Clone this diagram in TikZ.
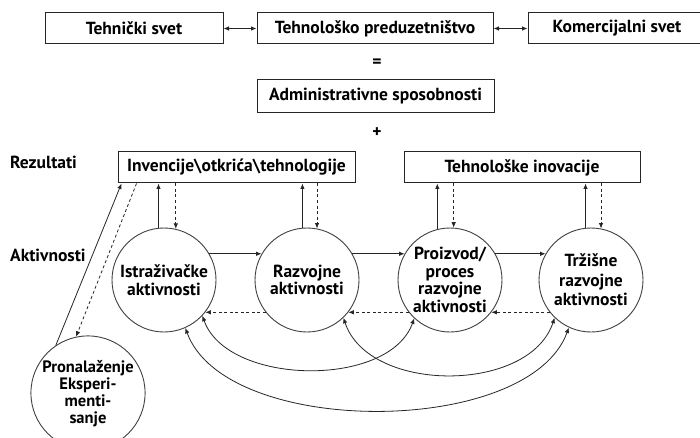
\documentclass[tikz,border=0pt]{standalone}
\usepackage{fontspec}
\setmainfont{PT Sans}
\usetikzlibrary{arrows.meta,calc}

\tikzset{
  lbl/.style={font=\bfseries\fontsize{17.5}{17.5}\selectfont, inner sep=0pt},
  boxnode/.style={lbl, draw=black!85, line width=1pt, minimum height=31pt},
  circnode/.style={lbl, circle, draw=black!75, line width=0.9pt, minimum size=104pt, align=center},
  arr/.style={line width=0.8pt, draw=black!85, -{Latex[length=5.5pt,width=4.5pt]}},
  darr/.style={arr, dashed, dash pattern=on 3pt off 2.5pt},
  biarr/.style={line width=0.8pt, draw=black!85, {Latex[length=5.5pt,width=4.5pt]}-{Latex[length=5.5pt,width=4.5pt]}}
}

\begin{document}
\begin{tikzpicture}[x=1pt, y=-1pt]
  \useasboundingbox[fill=white] (0,0) rectangle (700,438);

  % upper row
  \node[boxnode, minimum width=178pt] (tech) at (134,28.5) {Tehnički svet};
  \node[boxnode, minimum width=236pt] (pred) at (375,28.5) {Tehnološko preduzetništvo};
  \node[boxnode, minimum width=178pt] (kom)  at (617,28.5) {Komercijalni svet};
  \draw[biarr] (tech.east) -- (pred.west);
  \draw[biarr] (pred.east) -- (kom.west);

  \node[lbl] (eq) at (377,63) {=};
  \node[boxnode, minimum width=237pt, minimum height=33pt] (adm) at (375.5,96.5) {Administrativne sposobnosti};
  \node[lbl] (plus) at (377,133) {+};

  % results
  \node[lbl, anchor=west] (rez) at (10,162) {Rezultati};
  \node[boxnode, minimum width=237pt] (inv) at (236.5,167.5) {Invencije\textbackslash otkrića\textbackslash tehnologije};
  \node[boxnode, minimum width=236pt] (tin) at (522,167.5) {Tehnološke inovacije};

  % activities
  \node[lbl, anchor=west] (akt) at (10,255) {Aktivnosti};
  \node[circnode] (ist) at (164,280) {Istraživačke\\aktivnosti};
  \node[circnode] (raz) at (307,280) {Razvojne\\aktivnosti};
  \node[circnode] (pro) at (450,280) {Proizvod/\\proces\\razvojne\\aktivnosti};
  \node[circnode] (trz) at (591,280) {Tržišne\\[2pt]razvojne\\[2pt]aktivnosti};
  \node[circnode, minimum size=106pt, font=\bfseries\fontsize{16.5}{17}\selectfont] (pron) at (88,393) {\\[-3pt]Pronalaženje\\Eksperi-\\menti-\\sanje};

  % circles to result boxes
  \draw[arr]  (ist.96.6) -- (ist.96.6 |- inv.south);
  \draw[darr] (inv.south -| ist.77.8) -- (ist.77.8);
  \draw[arr]  (raz.95.5) -- (raz.95.5 |- inv.south);
  \draw[darr] (inv.south -| raz.79) -- (raz.79);
  \draw[arr]  (pro.104.5) -- (pro.104.5 |- tin.south);
  \draw[darr] (tin.south -| pro.86.7) -- (pro.86.7);
  \draw[arr]  (trz.96.6) -- (trz.96.6 |- tin.south);
  \draw[darr] (tin.south -| trz.79) -- (trz.79);

  % forward flow
  \draw[arr] (ist.30) -- (raz.150);
  \draw[arr] (raz.30) -- (pro.150);
  \draw[arr] (pro.30) -- (trz.150);

  % feedback
  \draw[darr] (raz.218) -- (ist.-38);
  \draw[darr] (pro.218) -- (raz.-38);
  \draw[darr] (trz.218) -- (pro.-38);

  % long loops
  \draw[biarr] (ist.-43) .. controls +(25,70) and +(-25,70) .. (pro.227);
  \draw[biarr] (raz.-46) .. controls +(25,76) and +(-25,76) .. (trz.226);
  \draw[biarr] (ist.-66) .. controls +(40,110) and +(-40,110) .. (trz.245);

  % discovery / experimentation
  \draw[arr]  (pron.124) -- ($(inv.south west)+(4,0)$);
  \draw[darr] ($(inv.south west)+(19,0)$) -- (pron.102);
\end{tikzpicture}
\end{document}
